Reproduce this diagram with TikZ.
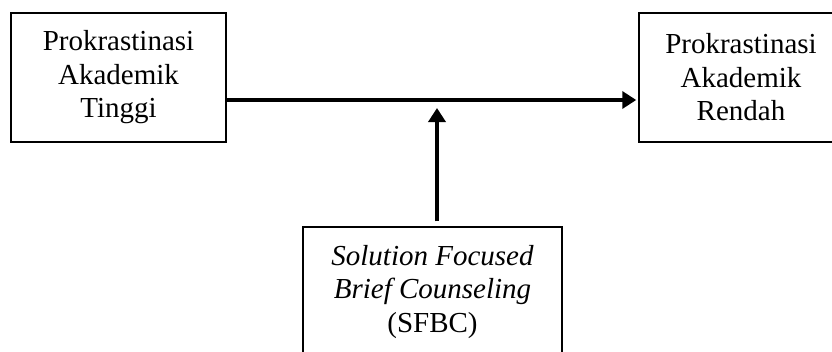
\documentclass[tikz,border=0pt]{standalone}
\usepackage{fontspec}
\setmainfont{Liberation Serif}
\usetikzlibrary{arrows.meta}
\begin{document}
\begin{tikzpicture}[x=1pt,y=-1pt,
  box/.style={draw=black,line width=1.5pt,align=center,inner sep=0pt,
    font=\fontsize{29}{33.5}\selectfont},
  arr/.style={line width=3.5pt,-{Triangle[length=14pt,width=17pt]}}]
  \useasboundingbox (0,0) rectangle (832,351);
  \clip (0,0) rectangle (832,351);
  % the three boxes
  \node[box,minimum width=215pt,minimum height=129pt] (L) at (118.5,77.5)
    {Prokrastinasi\\Akademik\\Tinggi};
  \node[box,minimum width=204pt,minimum height=129pt] (R) at (741,77.5)
    {Prokrastinasi\\Akademik\\Rendah};
  \node[box,minimum width=259pt,minimum height=130pt] (B) at (432.5,292)
    {\textit{Solution Focused}\\\textit{Brief Counseling}\\(SFBC)};
  % junction point on the main arrow
  \coordinate (j) at (437,100);
  \draw[arr] (L.east |- j) -- ([xshift=-2pt]R.west |- j);
  \draw[arr] ([yshift=5pt]B.north -| j) -- ([yshift=-8pt]j);
\end{tikzpicture}
\end{document}
